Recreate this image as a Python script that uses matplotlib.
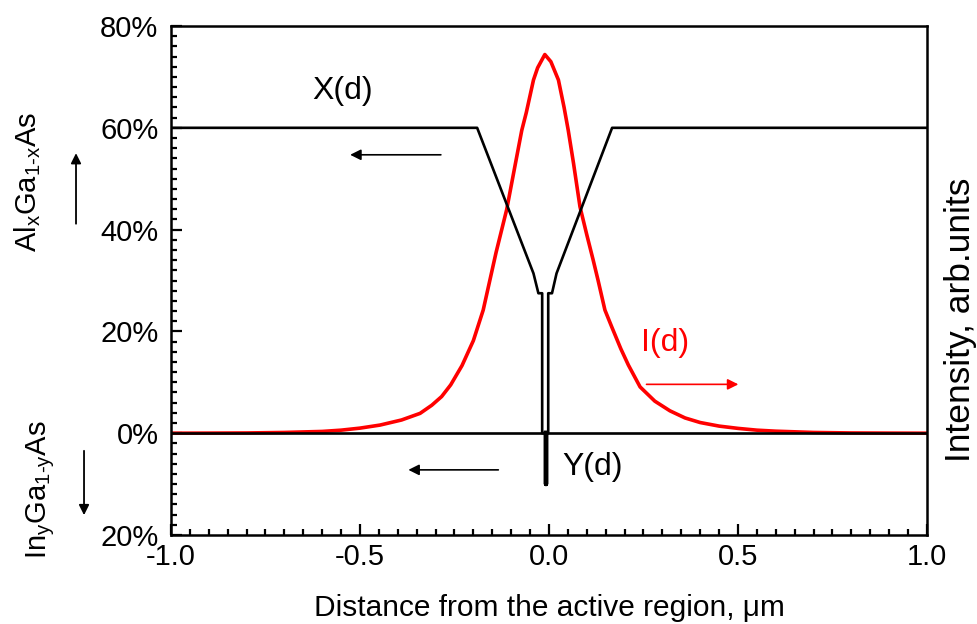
import matplotlib
matplotlib.use("Agg")
import matplotlib.pyplot as plt
from matplotlib.patches import FancyArrowPatch
from matplotlib.ticker import MultipleLocator

plt.rcParams['font.family'] = ['Liberation Sans', 'DejaVu Sans']
plt.rcParams['mathtext.fontset'] = 'custom'
plt.rcParams['mathtext.rm'] = 'Liberation Sans'
plt.rcParams['mathtext.it'] = 'Liberation Sans'
plt.rcParams['mathtext.default'] = 'rm'

# Al content X(d), percent
x_d = [-1.0, -0.19, -0.041, -0.028, -0.018, -0.018, -0.002, -0.002, 0.008, 0.020, 0.167, 1.0]
x_val = [60, 60, 31.4, 27.5, 27.5, 0, 0, 27.5, 27.5, 31.4, 60, 60]

# In content Y(d), plotted downwards
y_d = [-1.0, -0.0087, -0.0087, -0.0087, 1.0]
y_val = [0, 0, -10, 0, 0]

# optical intensity I(d), arb. units on the same scale
i_d = [-1.0, -0.9, -0.8, -0.7, -0.6, -0.55, -0.5, -0.447, -0.39, -0.341, -0.31,
       -0.284, -0.26, -0.23, -0.2, -0.174, -0.14, -0.112, -0.09, -0.072, -0.06,
       -0.041, -0.03, -0.011, 0.005, 0.025, 0.04, 0.051, 0.065, 0.082, 0.1,
       0.117, 0.13, 0.148, 0.166, 0.19, 0.21, 0.241, 0.28, 0.32, 0.36, 0.4,
       0.45, 0.5, 0.55, 0.6, 0.7, 0.8, 0.9, 1.0]
i_val = [0.0, 0.02, 0.05, 0.15, 0.35, 0.6, 1.0, 1.6, 2.6, 3.9, 5.5,
         7.2, 9.5, 13.3, 18.2, 24.2, 35.5, 43.9, 52.5, 59.5, 63.0,
         69.4, 71.8, 74.4, 73.0, 69.4, 64.0, 59.5, 53.0, 44.5, 39.0,
         34.0, 30.0, 24.2, 20.9, 16.6, 13.4, 9.1, 6.3, 4.4, 3.0, 2.1,
         1.4, 0.95, 0.6, 0.4, 0.15, 0.05, 0.02, 0.0]

x_ticks = [-1.0, -0.5, 0.0, 0.5, 1.0]
x_labels = ['-1.0', '-0.5', '0.0', '0.5', '1.0']
y_ticks = [80, 60, 40, 20, 0, -20]
y_labels = ['80%', '60%', '40%', '20%', '0%', '20%']

fig = plt.figure(figsize=(9.77, 6.24), dpi=100)
ax = fig.add_axes([0.175, 0.1426, 0.7738, 0.8157])

ax.plot(i_d, i_val, color='#ff0000', lw=2.6, zorder=2)
ax.plot(x_d, x_val, color='black', lw=1.9, zorder=3)
ax.plot(y_d, y_val, color='black', lw=1.9, zorder=3)
ax.plot(y_d[1:4], y_val[1:4], color='black', lw=3.2, zorder=3)

ax.set_xlim(-1.0, 1.0)
ax.set_ylim(-20, 80)
ax.set_xticks(x_ticks)
ax.set_xticklabels(x_labels)
ax.set_yticks(y_ticks)
ax.set_yticklabels(y_labels)
ax.xaxis.set_minor_locator(MultipleLocator(0.05))
ax.yaxis.set_minor_locator(MultipleLocator(2))
ax.tick_params(which='both', direction='in', top=False, right=False, width=1.6, labelsize=21)
ax.tick_params(axis='x', which='major', length=8, pad=6)
ax.tick_params(axis='y', which='major', length=8, pad=9)
ax.tick_params(which='minor', length=4.5)
for s in ax.spines.values():
    s.set_linewidth(1.8)

ax.set_xlabel('Distance from the active region, \u03bcm', fontsize=21.5, labelpad=16)

# curve labels and direction arrows
ax.text(-0.545, 67.2, 'X(d)', fontsize=23, ha='center', va='center')
ax.text(0.115, -6.6, 'Y(d)', fontsize=23, ha='center', va='center')
ax.text(0.307, 17.8, 'I(d)', fontsize=23, ha='center', va='center', color='#ff0000')
arr = dict(arrowstyle='-|>', lw=1.2, mutation_scale=16, shrinkA=0, shrinkB=0)
ax.annotate('', xy=(-0.526, 54.7), xytext=(-0.286, 54.7), arrowprops=dict(arr, color='black'))
ax.annotate('', xy=(-0.372, -7.2), xytext=(-0.134, -7.2), arrowprops=dict(arr, color='black'))
ax.annotate('', xy=(0.501, 9.6), xytext=(0.258, 9.6), arrowprops=dict(arr, color='#ff0000'))

# left composite axis labels
fig.text(0.028, 0.709, 'Al$_{x}$Ga$_{1\u2010x}$As', rotation=90, fontsize=21, ha='center', va='center')
fig.text(0.042, 0.215, 'In$_{y}$Ga$_{1\u2010y}$As', rotation=90, fontsize=21, ha='center', va='center')
fig.add_artist(FancyArrowPatch((0.0778, 0.637), (0.0778, 0.759), transform=fig.transFigure,
                               arrowstyle='-|>', mutation_scale=15, lw=1.3, color='black'))
fig.add_artist(FancyArrowPatch((0.086, 0.282), (0.086, 0.170), transform=fig.transFigure,
                               arrowstyle='-|>', mutation_scale=15, lw=1.3, color='black'))

fig.text(0.9836, 0.487, 'Intensity, arb.units', rotation=90, fontsize=25.5, ha='center', va='center')

fig.savefig('out.png', dpi=100)
